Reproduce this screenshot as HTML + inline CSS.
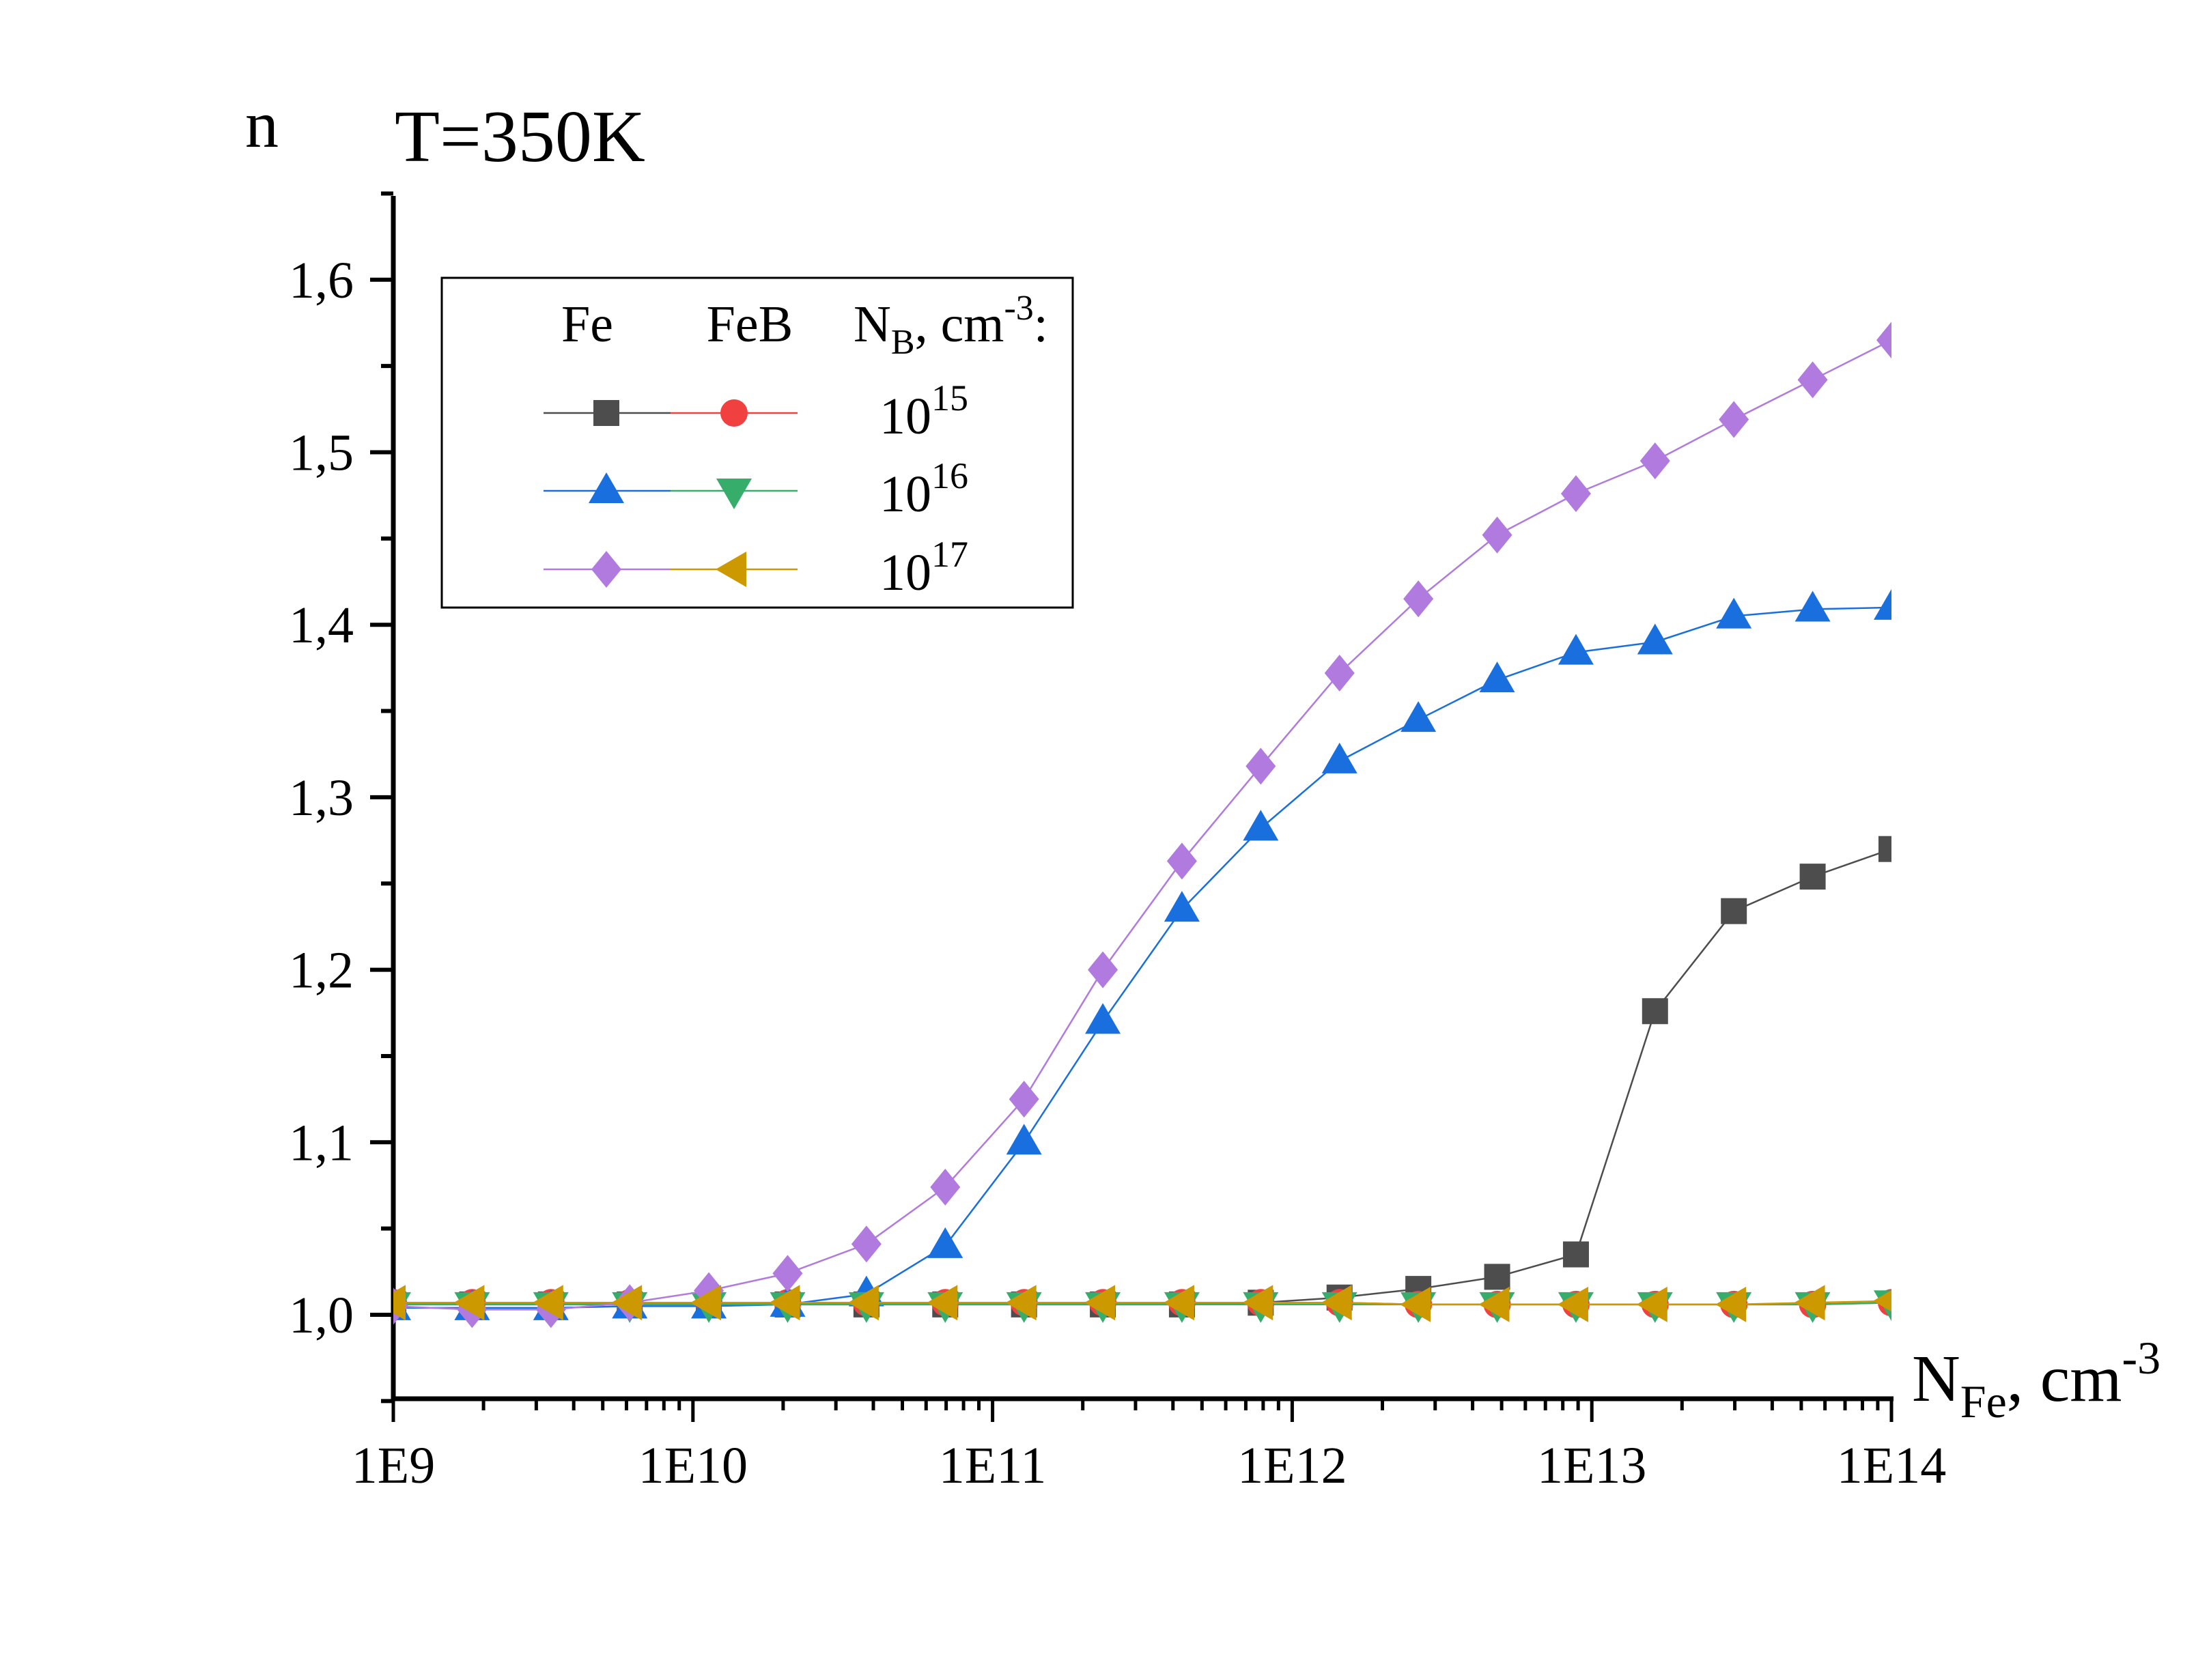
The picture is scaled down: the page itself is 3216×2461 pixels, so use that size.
<!DOCTYPE html>
<html><head><meta charset="utf-8"><style>
html,body{margin:0;padding:0;background:#fff}
svg{display:block}
text{font-family:"Liberation Serif",serif;fill:#000}
</style></head><body>
<svg id="chart" width="3216" height="2461" viewBox="0 0 3216 2461" xmlns="http://www.w3.org/2000/svg">
<defs><clipPath id="plotclip"><rect x="576" y="280" width="2194" height="1770"/></clipPath></defs>
<g id="axes"></g>
<g id="series" clip-path="url(#plotclip)"></g>
<text x="359" y="215" font-size="98">n</text>
<text x="578" y="236" font-size="108">T=350K</text>
<text x="2800" y="2052" font-size="98">N<tspan font-size="68" dy="24">Fe</tspan><tspan dy="-24">, cm</tspan><tspan font-size="68" dy="-40">-3</tspan></text>
<g id="legend">
<rect x="647" y="407" width="924" height="483" fill="none" stroke="#000" stroke-width="3"/>
<text x="860" y="500" font-size="76" text-anchor="middle">Fe</text>
<text x="1098" y="500" font-size="76" text-anchor="middle">FeB</text>
<text x="1250" y="500" font-size="76">N<tspan font-size="52" dy="18">B</tspan><tspan dy="-18">, cm</tspan><tspan font-size="52" dy="-32">-3</tspan><tspan dy="32">:</tspan></text>
</g>
</svg>
<script>
const logX = [9,9.263,9.526,9.789,10.053,10.316,10.579,10.842,11.105,11.368,11.632,11.895,12.158,12.421,12.684,12.947,13.211,13.474,13.737,14];
const fe15 = [1.006,1.006,1.006,1.006,1.006,1.006,1.006,1.006,1.006,1.006,1.006,1.007,1.010,1.015,1.022,1.035,1.176,1.234,1.254,1.270];
const fe16 = [1.004,1.004,1.004,1.005,1.005,1.006,1.012,1.040,1.100,1.170,1.235,1.282,1.321,1.345,1.368,1.384,1.390,1.405,1.409,1.410];
const fe17 = [1.005,1.003,1.003,1.007,1.014,1.024,1.041,1.074,1.125,1.200,1.263,1.318,1.372,1.415,1.452,1.476,1.495,1.519,1.542,1.565];
const feb15 = [1.007,1.007,1.007,1.007,1.007,1.007,1.007,1.007,1.007,1.007,1.007,1.007,1.007,1.006,1.006,1.006,1.006,1.006,1.006,1.007];
const feb16 = [1.006,1.006,1.006,1.006,1.006,1.006,1.006,1.006,1.006,1.006,1.006,1.006,1.006,1.006,1.006,1.006,1.006,1.006,1.006,1.007];
const feb17 = [1.007,1.007,1.007,1.007,1.007,1.007,1.007,1.007,1.007,1.007,1.007,1.007,1.007,1.006,1.006,1.006,1.006,1.006,1.007,1.008];
const yTickLabels = ["1,0","1,1","1,2","1,3","1,4","1,5","1,6"];
const yTickValues = [1.0,1.1,1.2,1.3,1.4,1.5,1.6];
const xTickLabels = ["1E9","1E10","1E11","1E12","1E13","1E14"];
const xTickValues = [9,10,11,12,13,14];

const X0=576,X1=2770,Y0=2049;
const sx=v=>X0+(v-9)/5*(X1-X0);
const sy=v=>1926-(v-1.0)*2527;
const NS="http://www.w3.org/2000/svg";
function mk(t,a,p){const e=document.createElementNS(NS,t);for(const k in a)e.setAttribute(k,a[k]);p.appendChild(e);return e;}
const axes=document.getElementById('axes');
let e=mk('line',{x1:X0,y1:Y0,x2:X1+3,y2:Y0,stroke:'#000','stroke-width':7},axes);


e=mk('line',{x1:X0,y1:Y0+3,x2:X0,y2:287,stroke:'#000','stroke-width':7},axes);


for(let i=0;i<yTickValues.length;i++){
  const y=sy(yTickValues[i]);
  e=mk('line',{x1:X0-34,y1:y,x2:X0,y2:y,stroke:'#000','stroke-width':6},axes);
  
  
  e=mk('text',{x:518,y:y+26,'font-size':76,'text-anchor':'end'},axes);e.textContent=yTickLabels[i];
  
  
}
for(let v=1.05;v<1.66;v+=0.1){
  const y=sy(v);
  e=mk('line',{x1:X0-18,y1:y,x2:X0,y2:y,stroke:'#000','stroke-width':6},axes);
  
  
}
e=mk('line',{x1:X0-18,y1:sy(0.95),x2:X0,y2:sy(0.95),stroke:'#000','stroke-width':6},axes);


for(let i=0;i<xTickValues.length;i++){
  const x=sx(xTickValues[i]);
  e=mk('line',{x1:x,y1:Y0,x2:x,y2:Y0+34,stroke:'#000','stroke-width':5},axes);
  
  
  e=mk('text',{x:x,y:2172,'font-size':76,'text-anchor':'middle'},axes);e.textContent=xTickLabels[i];
  
  
  if(i<xTickValues.length-1){
    for(let m=2;m<=9;m++){
      const xm=sx(xTickValues[i]+Math.log10(m));
      e=mk('line',{x1:xm,y1:Y0,x2:xm,y2:Y0+17,stroke:'#000','stroke-width':5},axes);
      
      
    }
  }
}
function marker(type,x,y,color,p){
  let m;
  if(type==='square') m=mk('rect',{x:x-19,y:y-19,width:38,height:38,fill:color},p);
  else if(type==='circle') m=mk('circle',{cx:x,cy:y,r:20,fill:color},p);
  else if(type==='up') m=mk('polygon',{points:`${x},${y-27} ${x+26},${y+18} ${x-26},${y+18}`,fill:color},p);
  else if(type==='down') m=mk('polygon',{points:`${x},${y+27} ${x+26},${y-18} ${x-26},${y-18}`,fill:color},p);
  else if(type==='diamond') m=mk('polygon',{points:`${x},${y-27} ${x+22},${y} ${x},${y+27} ${x-22},${y}`,fill:color},p);
  else if(type==='left') m=mk('polygon',{points:`${x-27},${y} ${x+18},${y-26} ${x+18},${y+26}`,fill:color},p);
  return m;
}
const seriesG=document.getElementById('series');
const defs=[
 {name:'fe-1e15',data:fe15,color:'#4d4d4d',m:'square'},
 {name:'feb-1e15',data:feb15,color:'#f14040',m:'circle'},
 {name:'fe-1e16',data:fe16,color:'#1a6fdf',m:'up'},
 {name:'feb-1e16',data:feb16,color:'#37ad6b',m:'down'},
 {name:'fe-1e17',data:fe17,color:'#b07adf',m:'diamond'},
 {name:'feb-1e17',data:feb17,color:'#cc9900',m:'left'}
];
defs.forEach(d=>{
  const g=mk('g',{},seriesG);
  
  
  const pts=d.data.map((v,i)=>sx(logX[i])+','+sy(v)).join(' ');
  const l=mk('polyline',{points:pts,fill:'none',stroke:d.color,'stroke-width':2.5},g);
  
  
  d.data.forEach((v,i)=>{
    const m=marker(d.m,sx(logX[i]),sy(v),d.color,g);
    
    
  });
});
const leg=document.getElementById('legend');
const rows=[[0,1,'15',605],[2,3,'16',719],[4,5,'17',834]];
rows.forEach(r=>{
  const y=r[3];
  const a=defs[r[0]],b=defs[r[1]];
  let l=mk('line',{x1:796,y1:y,x2:982,y2:y,stroke:a.color,'stroke-width':2.5},leg);
  
  
  l=mk('line',{x1:982,y1:y,x2:1168,y2:y,stroke:b.color,'stroke-width':2.5},leg);
  
  
  let m=marker(a.m,888,y,a.color,leg);
  
  
  m=marker(b.m,1075,y,b.color,leg);
  
  
  const t=mk('text',{x:1288,y:y+30,'font-size':76},leg);
  
  
  t.innerHTML='10<tspan font-size="54" dy="-34">'+r[2]+'</tspan>';
});
</script>
</body></html>
